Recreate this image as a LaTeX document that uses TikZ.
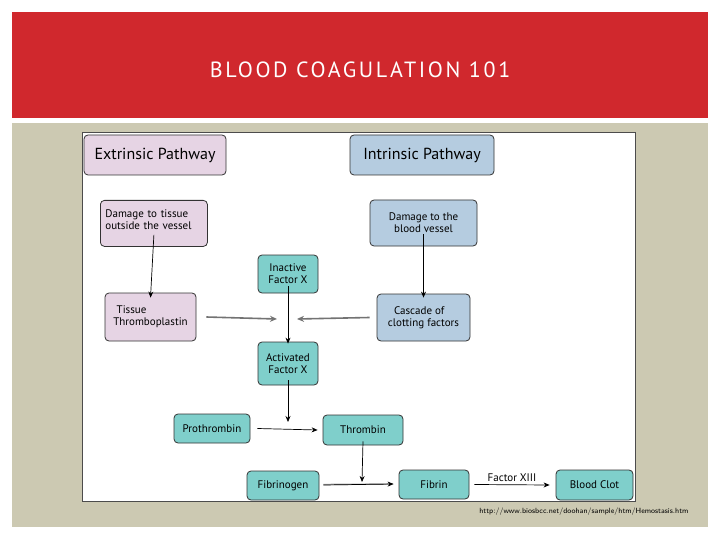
\documentclass[tikz,border=0pt]{standalone}
\usepackage{fontspec}
\setmainfont{PT Sans}
\usetikzlibrary{arrows.meta}
\definecolor{banner}{HTML}{D0282D}
\definecolor{panel}{HTML}{CCC9B2}
\definecolor{pinkf}{HTML}{E6D4E4}
\definecolor{bluef}{HTML}{B5CCE0}
\definecolor{tealf}{HTML}{7FCFCB}
\begin{document}
\begin{tikzpicture}[x=1pt,y=-1pt,
  box/.style={draw=black!80,line width=0.8pt,rounded corners=4pt,align=left,font=\fontsize{11}{12}\selectfont,inner sep=0pt,anchor=north west},
  arr/.style={-{Stealth[length=6pt,width=5pt]},line width=0.7pt},
  garr/.style={-{Stealth[length=7pt,width=6pt]},line width=1.6pt,draw=black!55}]
\useasboundingbox (0,0) rectangle (720,540);
\fill[white] (0,0) rectangle (720,540);
\fill[banner] (12,12) rectangle (708,118);
\node[white,font=\fontsize{22}{24}\selectfont\addfontfeature{LetterSpace=12}] (title) at (360,70) {BLOOD COAGULATION 101};
\fill[panel] (12,123) rectangle (708,527);
\draw[fill=white,draw=black!70,line width=0.5pt] (82,132) rectangle (635,501);
\node[box,fill=pinkf,minimum width=142pt,minimum height=40pt,align=center,anchor=center,font=\fontsize{16}{18}\selectfont] (ext) at (155,155) {Extrinsic Pathway};
\node[box,fill=bluef,minimum width=144pt,minimum height=40pt,align=center,anchor=center,font=\fontsize{16}{18}\selectfont] (int) at (422,155) {Intrinsic Pathway};
\node[box,fill=pinkf,minimum width=107pt,minimum height=46pt,text width=97pt] (dt) at (100,200) {\hspace*{6pt}\raisebox{-8pt}{}\\[-16pt]Damage to tissue\\outside the vessel};
\node[box,fill=bluef,minimum width=107pt,minimum height=46pt,align=center,anchor=center] (dv) at (423.5,223) {Damage to the\\blood vessel};
\node[box,fill=tealf,minimum width=60pt,minimum height=38pt,align=center,anchor=center] (ifx) at (288,274) {Inactive\\Factor X};
\node[box,fill=pinkf,minimum width=91pt,minimum height=48pt,align=center,anchor=center] (tt) at (150.5,317) {Tissue\phantom{oplastin}\\Thromboplastin};
\node[box,fill=bluef,minimum width=93pt,minimum height=47pt,align=center,anchor=center] (cc) at (423.5,317.5) {Cascade of\phantom{ct}\\clotting factors};
\node[box,fill=tealf,minimum width=60pt,minimum height=43pt,align=center,anchor=center] (afx) at (288,363.5) {Activated\\Factor X};
\node[box,fill=tealf,minimum width=76pt,minimum height=29pt,align=center,anchor=center] (pro) at (212,428.5) {Prothrombin};
\node[box,fill=tealf,minimum width=80pt,minimum height=30pt,align=center,anchor=center] (thr) at (363,430) {Thrombin};
\node[box,fill=tealf,minimum width=72pt,minimum height=29pt,align=center,anchor=center] (fbg) at (283,485.5) {Fibrinogen};
\node[box,fill=tealf,minimum width=70pt,minimum height=29pt,align=center,anchor=center] (fib) at (434,484.5) {Fibrin};
\node[box,fill=tealf,minimum width=77pt,minimum height=30pt,align=center,anchor=center] (clot) at (594.5,485) {Blood Clot};
\coordinate (m1) at (277,319);
\coordinate (m2) at (297,319);
\coordinate (j1) at (288,422);
\coordinate (j2) at (362,482);
\draw[arr] ([yshift=12pt]dt.south) -- ([yshift=-5pt]tt.north);
\draw[arr] ([yshift=12pt]dv.south) -- ([yshift=-4pt]cc.north);
\draw[arr] ([yshift=7pt]ifx.south) -- ([yshift=-2pt]afx.north);
\draw[garr] ([xshift=10pt]tt.east) -- (m1);
\draw[garr] ([xshift=-7pt]cc.west) -- (m2);
\draw[arr] ([yshift=5pt]afx.south) -- (j1);
\draw[arr] ([xshift=7pt]pro.east) -- ([xshift=-5pt]thr.west);
\draw[arr] ([yshift=4pt]thr.south) -- (j2);
\draw[line width=1.4pt,draw=black!35] ([xshift=4pt,yshift=1pt]fbg.east) -- ([xshift=-6pt,yshift=0.5pt]fib.west);
\draw[arr] ([xshift=4pt,yshift=0.5pt]fbg.east) -- ([xshift=-5pt,yshift=0.5pt]fib.west);
\draw[arr] ([xshift=5pt]fib.east) -- node[above,font=\fontsize{11}{12}\selectfont,inner sep=3pt] (f13) {Factor XIII} ([xshift=-6pt]clot.west);
\node[font=\fontsize{7.5}{8}\selectfont\sffamily,anchor=east] (url) at (692,512) {http://www.biosbcc.net/doohan/sample/htm/Hemostasis.htm};
\end{tikzpicture}
\end{document}
